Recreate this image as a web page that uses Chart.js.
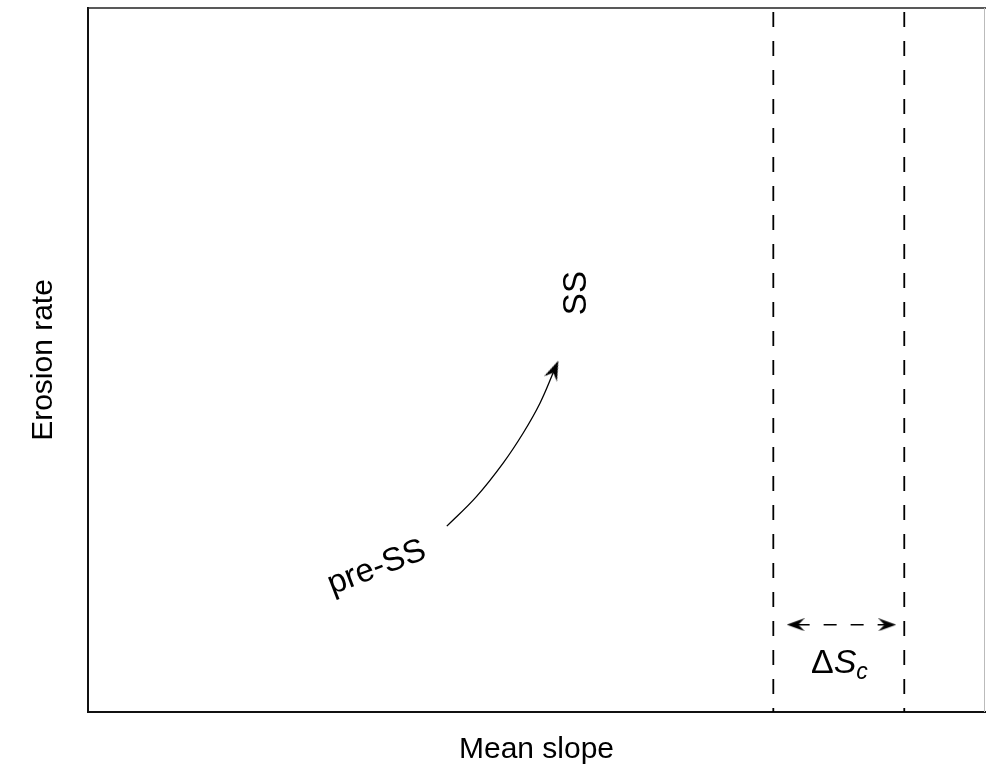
<!DOCTYPE html>
<html>
<head>
<meta charset="utf-8">
<title>Erosion rate vs mean slope</title>
<script src="https://cdn.jsdelivr.net/npm/chart.js@4"></script>
<style>
  html, body { margin: 0; padding: 0; background: #fff; overflow: hidden; }
  canvas { display: block; }
</style>
</head>
<body>
<canvas id="slopeChart" width="986" height="776"></canvas>
<script>
//esquema sin unidades: ambos ejes van de 0 a 100
const xRange = [0, 100]
const yRange = [0, 100]

//curva pre-SS -> SS
const curveX = [40.0, 43.3, 46.3, 48.5, 50.4, 52.0]
const curveY = [26.4, 30.6, 35.4, 39.6, 43.9, 48.6]

//limites de la banda de pendiente critica
const bandLeftX = [76.4, 76.4]
const bandRightX = [91.0, 91.0]
const bandY = [100, 0]

//flecha doble (ΔSc)
const spanX = [79.0, 88.85]
const spanY = [12.4, 12.4]
const spanHeadX = [78.9, 89.1]

const fontFamily = "'Liberation Sans', Arial, Helvetica, sans-serif"

const toPoints = (xs, ys) => xs.map((x, i) => ({ x, y: ys[i] }))

//punta de flecha tipo "stealth", apuntando a la derecha
const makeArrowHead = (len, wid) => {
    const c = document.createElement('canvas')
    c.width = len
    c.height = wid
    const g = c.getContext('2d')
    g.fillStyle = '#000'
    g.beginPath()
    g.moveTo(len, wid / 2)
    g.lineTo(0, 0)
    g.lineTo(len * 0.35, wid / 2)
    g.lineTo(0, wid)
    g.closePath()
    g.fill()
    return c
}
const curveHead = makeArrowHead(20, 14)
const spanHead = makeArrowHead(18, 13)

//textos dentro del grafico
const notes = [
    { text: 'SS', x: 54.5, y: 59.5, angle: -90, size: 33 },
    { text: 'pre-SS', x: 32.2, y: 20.5, angle: -21, size: 33 }
]

const labelsPlugin = {
    id: 'labels',
    afterDatasetsDraw(chart) {
        const { ctx, scales: { x, y } } = chart
        ctx.save()
        ctx.fillStyle = '#000'
        notes.forEach(n => {
            ctx.save()
            ctx.translate(x.getPixelForValue(n.x), y.getPixelForValue(n.y))
            ctx.rotate(n.angle * Math.PI / 180)
            ctx.font = `${n.size}px ${fontFamily}`
            ctx.textAlign = 'center'
            ctx.textBaseline = 'middle'
            ctx.fillText(n.text, 0, 0)
            ctx.restore()
        })
        //ΔSc con S cursiva y subindice c
        let px = x.getPixelForValue(80.6)
        const py = y.getPixelForValue(5.6)
        ctx.textAlign = 'left'
        ctx.textBaseline = 'alphabetic'
        ctx.font = `34px ${fontFamily}`
        ctx.fillText('Δ', px, py)
        px += ctx.measureText('Δ').width
        ctx.font = `italic 34px ${fontFamily}`
        ctx.fillText('S', px, py)
        px += ctx.measureText('S').width
        ctx.font = `italic 23px ${fontFamily}`
        ctx.fillText('c', px, py + 6)
        ctx.restore()
    }
}

//lineas superior y derecha del marco
const framePlugin = {
    id: 'frame',
    beforeDatasetsDraw(chart) {
        const { ctx, chartArea: { left, right, top, bottom } } = chart
        ctx.save()
        ctx.strokeStyle = '#222'
        ctx.lineWidth = 1.5
        ctx.beginPath()
        ctx.moveTo(left, top)
        ctx.lineTo(right + 1, top)
        ctx.stroke()
        ctx.strokeStyle = '#bbb'
        ctx.lineWidth = 1
        ctx.beginPath()
        ctx.moveTo(right - 0.5, top)
        ctx.lineTo(right - 0.5, bottom)
        ctx.stroke()
        ctx.restore()
    }
}

const renderSlopeChart = () => {
    const data = {
        datasets: [{
            label: 'pre-SS',
            data: toPoints(curveX, curveY),
            borderColor: '#000',
            borderWidth: 1.3,
            tension: 0.4,
            pointRadius: curveX.map((v, i) => i === curveX.length - 1 ? 5 : 0),
            pointStyle: curveHead,
            pointRotation: -67
        }, {
            label: 'band left',
            data: toPoints(bandLeftX, bandY),
            borderColor: '#000',
            borderWidth: 1.8,
            borderDash: [15, 14],
            borderDashOffset: 25,
            pointRadius: 0
        }, {
            label: 'band right',
            data: toPoints(bandRightX, bandY),
            borderColor: '#000',
            borderWidth: 1.8,
            borderDash: [15, 14],
            borderDashOffset: 25,
            pointRadius: 0
        }, {
            label: 'span',
            data: toPoints(spanX, spanY),
            borderColor: '#000',
            borderWidth: 1.4,
            borderDash: [13, 14],
            pointRadius: 0
        }, {
            label: 'span heads',
            data: toPoints(spanHeadX, spanY),
            showLine: false,
            pointRadius: 5,
            pointStyle: spanHead,
            pointRotation: [180, 0]
        }]
    }

    const titleFont = { size: 30, family: fontFamily }

    const options = {
        responsive: false,
        animation: false,
        layout: { autoPadding: false, padding: { top: 8, right: 1, left: 0, bottom: 0 } },
        plugins: {
            legend: { display: false },
            tooltip: { enabled: false }
        },
        scales: {
            x: {
                type: 'linear',
                min: xRange[0],
                max: xRange[1],
                grid: { display: false },
                ticks: { display: false },
                border: { display: true, color: '#111', width: 2 },
                title: { display: true, text: 'Mean slope', color: '#000', font: titleFont, padding: { top: 0, bottom: 8 } },
                afterFit: scale => { scale.height = 64 }
            },
            y: {
                type: 'linear',
                min: yRange[0],
                max: yRange[1],
                grid: { display: false },
                ticks: { display: false },
                border: { display: true, color: '#111', width: 2 },
                title: { display: true, text: 'Erosion rate', color: '#000', font: titleFont, padding: { top: 26, bottom: 0 } },
                afterFit: scale => { scale.width = 88 }
            }
        }
    }

    new Chart('slopeChart', { type: 'line', data, options, plugins: [framePlugin, labelsPlugin] })
}

renderSlopeChart()
</script>
</body>
</html>
